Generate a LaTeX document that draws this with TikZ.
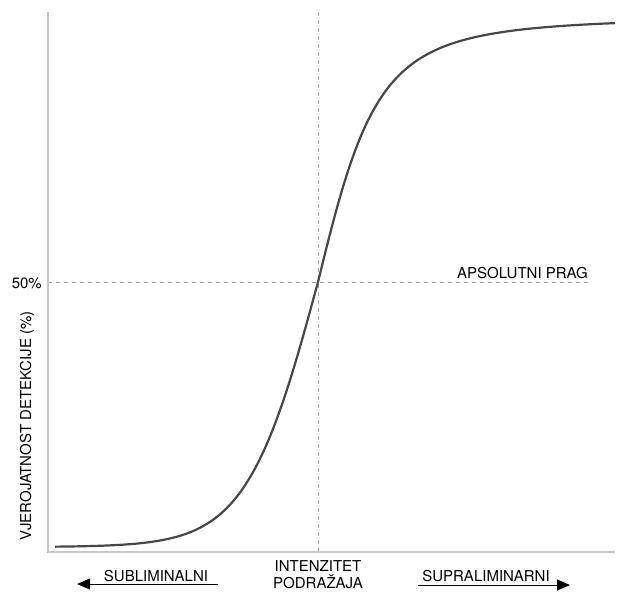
\documentclass[tikz,border=0pt]{standalone}
\usepackage{fontspec}
\setmainfont{TeX Gyre Heros}
\usetikzlibrary{arrows.meta}
\begin{document}
\begin{tikzpicture}[x=1pt, y=-1pt,
  axis/.style={draw=black!22, line width=1.5pt},
  guide/.style={draw=black!35, line width=0.8pt, dash pattern=on 4pt off 4pt},
  lbl/.style={font=\fontsize{15}{17}\selectfont, inner sep=0pt},
  dir/.style={line width=0.9pt, -{Triangle[length=13pt,width=11pt]}}]
\useasboundingbox (0,0) rectangle (617,592);
\coordinate (o) at (48,552);
\coordinate (ytop) at (48,12);
\coordinate (xend) at (615,552);
\coordinate (vtop) at (318,12);
\coordinate (vbot) at (318,552);
\coordinate (hl) at (48,282);
\coordinate (hr) at (590,282);

\draw[guide] (vtop) -- (vbot);
\draw[guide] (hl) -- (hr);
\draw[axis] (ytop) -- (o) -- (xend);

% detection curve, lower and upper half
\draw[line width=2.2pt, black!72, line join=round]
  plot[domain=55:318, samples=90] (\x, {282+265*tanh((318-\x)/72)})
  -- plot[domain=318:615, samples=90] (\x, {282-265*((\x-318)/65)/sqrt(1+((\x-318)/65)^2)});

\node[lbl, anchor=east] (half) at (42,283) {50\%};
\node[lbl, anchor=base east] (prag) at (588,278) {APSOLUTNI PRAG};
\node[lbl, rotate=90] (ylabel) at (27,426) {VJEROJATNOST DETEKCIJE (\%)};
\node[lbl, align=center] (intenz) at (318,575) {INTENZITET\\PODRAŽAJA};
\node[lbl] (sub) at (156,576) {SUBLIMINALNI};
\node[lbl] (supra) at (486,576) {SUPRALIMINARNI};

\coordinate (subtail) at (218,584);
\coordinate (subtip) at (77,584);
\coordinate (supratail) at (418,585);
\coordinate (supratip) at (570,585);
\draw[dir] (subtail) -- (subtip);
\draw[dir] (supratail) -- (supratip);
\end{tikzpicture}
\end{document}
